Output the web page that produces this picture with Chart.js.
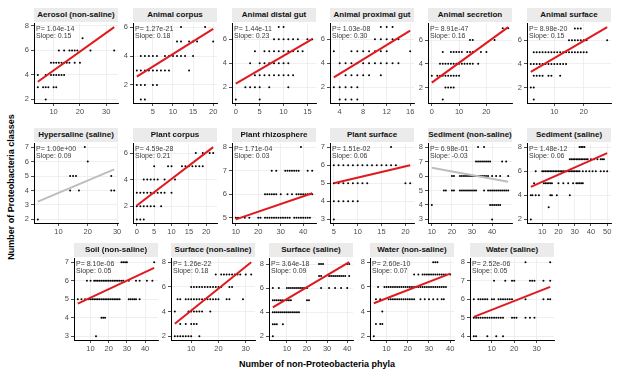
<!DOCTYPE html>
<html>
<head>
<meta charset="utf-8">
<script src="https://cdn.jsdelivr.net/npm/chart.js@4.4.1/dist/chart.umd.min.js"></script>
<style>
  body { margin: 0; background: #fff; font-family: "Liberation Sans", Arial, sans-serif; }
  #page { position: relative; width: 617px; height: 379px; overflow: hidden; }
  .strip { position: absolute; background: #ebebeb; color: #111; font-weight: bold; font-size: 8px;
           text-align: center; line-height: 14px; height: 14px; white-space: nowrap; overflow: hidden; }
  canvas { position: absolute; }
  .ytitle { position: absolute; left: 11px; top: 187px; transform: translate(-50%, -50%) rotate(-90deg);
            font-weight: bold; font-size: 9px; white-space: nowrap; color: #000; }
  .xtitle { position: absolute; left: 317px; top: 364px; transform: translate(-50%, -50%);
            font-weight: bold; font-size: 9px; white-space: nowrap; color: #000; }
</style>
</head>
<body>
<div id="page">
  <div class="ytitle">Number of Proteobacteria classes</div>
  <div class="xtitle">Number of non-Proteobacteria phyla</div>
</div>
<script>
//==================================================Data==================================================

var titles = ['Aerosol (non-saline)', 'Animal corpus', 'Animal distal gut', 'Animal proximal gut',
    'Animal secretion', 'Animal surface', 'Hypersaline (saline)', 'Plant corpus', 'Plant rhizosphere',
    'Plant surface', 'Sediment (non-saline)', 'Sediment (saline)', 'Soil (non-saline)',
    'Surface (non-saline)', 'Surface (saline)', 'Water (non-saline)', 'Water (saline)'];

var pLabels = ['1.04e-14', '1.27e-21', '1.44e-11', '1.03e-08', '8.91e-47', '8.98e-20', '1.00e+00',
    '4.59e-28', '1.71e-04', '1.51e-02', '6.98e-01', '1.48e-12', '8.10e-06', '1.26e-22', '3.64e-18',
    '2.60e-10', '2.52e-06'];

var slopeLabels = ['0.15', '0.18', '0.23', '0.30', '0.16', '0.15', '0.09', '0.21', '0.03', '0.06',
    '-0.03', '0.06', '0.05', '0.18', '0.09', '0.07', '0.05'];

var significant = [true, true, true, true, true, true, false, true, true, true, false, true, true,
    true, true, true, true];

// fitted line ends [x, y]
var lineFrom = [[4, 3.44], [1, 2.58], [0, 2.3], [3, 2.83], [0, 2.41], [2, 3.33], [3, 3.23], [0, 2.05],
    [10, 4.93], [5, 5.0], [10, 6.57], [3, 4.7], [3, 4.76], [4, 3.02], [3, 4.4], [4, 4.68], [2, 5.05]];
var lineTo = [[33, 7.9], [20, 5.88], [16, 6.0], [16, 6.7], [28, 7.09], [28, 7.12], [29, 5.46], [22, 6.45],
    [44, 6.04], [21, 6.0], [48, 5.6], [50, 7.5], [45, 6.69], [32, 8.0], [41, 8.15], [40, 7.07], [36, 6.67]];

var xSteps = [10, 5, 5, 4, 10, 10, 10, 5, 10, 5, 10, 10, 10, 10, 10, 10, 10];
var ySteps = [2, 2, 2, 2, 2, 2, 1, 2, 1, 1, 1, 2, 1, 2, 2, 2, 1];

// points per panel: [classes, [phyla, ...]]
var aerosolPts = [[7, [21]], [6, [12, 14, 16, 17, 18, 19, 24, 33]], [5, [9, 10, 11, 12, 13, 14, 15, 16, 18, 20]],
    [4, [4, 7, 9, 10, 11, 12, 13, 14]], [3, [4, 6, 7, 8, 10, 11]], [2, [7]]];
var corpusPts = [[6, [12, 18]], [5, [11, 12, 14, 15, 16, 20]], [4, [2, 3, 4, 5, 6, 8, 9, 10, 11, 12, 13, 15]],
    [3, [1, 2, 3, 4, 5, 6, 7, 8, 9, 14]], [2, [1, 2, 3, 5, 6]], [1, [2, 3]]];
var distalPts = [[7, [9, 10]], [6, [8, 9, 10, 11, 12, 13, 15, 16]], [5, [4, 6, 7, 8, 9, 10, 11, 12, 13, 14]],
    [4, [3, 5, 6, 7, 8, 9, 10, 11]], [3, [4, 5, 6, 7, 8, 9, 10, 11, 12]], [2, [2, 3, 4, 5, 7, 11]], [1, [0, 5]]];
var proximalPts = [[7, [11, 12, 13]], [6, [10, 11, 12, 13, 14]], [5, [3, 6, 7, 8, 9, 10, 11, 12, 16]],
    [4, [4, 5, 6, 7, 8, 9, 10, 11, 12, 13, 14]], [3, [5, 6, 7, 8, 9, 11]], [2, [3, 4, 5, 6, 7]], [1, [4, 5, 6, 7]]];
var secretionPts = [[7, [26, 28]], [6, [14, 15, 23]], [5, [4, 7, 8, 9, 10, 11, 13, 14, 15, 18, 20]],
    [4, [3, 4, 5, 6, 7, 8, 9, 10, 11, 12, 13, 14, 15, 17]], [3, [0, 2, 3, 4, 5, 6, 7, 8, 9, 10]],
    [2, [5, 6, 7, 8]], [1, [4]]];
var animalSurfPts = [[7, [17, 18, 19]], [6, [15, 16, 17, 18, 19, 20, 21, 28]],
    [5, [3, 4, 5, 6, 7, 8, 9, 10, 11, 12, 13, 14, 15, 16, 17, 18, 19, 20, 21]],
    [4, [2, 3, 4, 5, 6, 7, 8, 9, 10, 11, 12, 13, 14]], [3, [3, 4, 5, 6, 8, 9, 12]], [2, [2, 3]], [1, [3]]];
var hyperPts = [[7, [19]], [6, [20]], [5, [14, 15, 16, 28]], [4, [14, 17, 28, 29]], [2, [3]]];
var plantCorpusPts = [[6, [17, 19, 21, 22]], [5, [5, 9, 10, 13, 14, 15, 16, 17, 18, 19]],
    [4, [2, 3, 4, 5, 6, 8, 11]], [3, [0, 1, 2, 3, 4, 5, 6, 7, 8, 10]], [2, [0, 1, 2, 3, 4, 5, 7]], [1, [0, 1, 2]]];
var rhizoPts = [[8, [39]], [7, [26, 28, 32, 33, 34, 35, 36, 37, 38, 42, 44]],
    [6, [23, 24, 25, 26, 27, 28, 30, 33, 35, 37, 38, 39, 40, 41, 42, 43, 44]],
    [5, [10, 11, 14, 16, 20, 21, 23, 24, 25, 26, 27, 28, 29, 30, 31, 32, 33, 34, 36, 37, 38, 39, 40, 41, 42, 43]]];
var plantSurfPts = [[7, [17]], [6, [5, 6, 7, 8, 9, 10, 11, 12, 13, 14, 15, 16, 17, 18]],
    [5, [5, 6, 7, 8, 9, 10, 11, 12, 20, 21]], [4, [5, 6, 7, 8, 9, 10]], [3, [5]]];
var sedimentNsPts = [[8, [33, 36]], [7, [32, 33, 34, 35, 36, 37, 38, 39, 45, 47]],
    [6, [20, 21, 24, 25, 26, 27, 28, 29, 30, 31, 32, 33, 34, 35, 36, 37, 38, 40, 42, 44, 48]],
    [5, [16, 17, 20, 21, 24, 25, 26, 27, 28, 29, 30, 31, 32, 36, 38, 39, 40, 41, 42, 43, 44, 45, 46, 47, 48]],
    [4, [10, 39, 40, 41, 42, 43, 44]], [3, [40]]];
var sedimentSPts = [[8, [33, 34, 35, 36]],
    [7, [27, 28, 29, 30, 31, 32, 33, 34, 35, 36, 37, 38, 40, 42, 44, 46, 47, 48]],
    [6, [6, 10, 11, 12, 13, 14, 15, 16, 17, 18, 19, 20, 21, 22, 23, 24, 25, 26, 27, 28, 29, 30, 31, 32, 33,
        35, 37, 39, 41, 43, 46, 48, 50]],
    [5, [5, 11, 12, 13, 14, 15, 16, 20, 23, 26, 29, 31, 32, 33, 34, 35]],
    [4, [3, 4, 6, 8, 15, 16, 19, 27]], [3, [14]], [2, [3]]];
var soilPts = [[7, [27, 28, 29, 30, 45]],
    [6, [8, 10, 12, 13, 14, 15, 16, 17, 18, 19, 20, 21, 22, 23, 24, 25, 26, 27, 28, 31, 35, 37, 41, 44]],
    [5, [3, 5, 7, 9, 10, 11, 12, 13, 14, 15, 16, 17, 18, 19, 20, 21, 22, 23, 24, 25, 26, 31, 32, 33, 34, 35, 37]],
    [4, [16, 17, 18]], [3, [13]]];
var surfaceNsPts = [[7, [19, 21, 22, 23, 24, 25, 26, 27, 28, 30, 32]],
    [6, [10, 11, 12, 13, 14, 15, 16, 17, 18, 19, 20, 21, 24, 25]],
    [5, [5, 6, 8, 9, 10, 11, 12, 13, 14, 15, 16, 17, 18, 19, 20, 23, 24, 29]],
    [4, [4, 9, 10, 11, 12, 13, 14, 17]], [3, [6, 8, 10, 11, 12]], [2, [4, 5, 6, 7, 8, 9, 10, 13]]];
var surfaceSPts = [[8, [26, 27, 28, 40, 41]], [7, [26, 27, 31, 32, 33, 34, 35, 36, 37, 38, 39, 41]],
    [6, [3, 6, 10, 11, 12, 13, 14, 15, 16, 17, 18, 19, 20, 27, 31, 34, 37, 40]],
    [5, [3, 4, 5, 6, 7, 8, 10, 11, 12, 20, 21]], [4, [3, 4, 5, 6, 7, 8, 9, 10, 11, 12, 13, 14, 15, 16]],
    [3, [3, 4, 5, 8]], [2, [3]]];
var waterNsPts = [[8, [32, 33, 34]], [7, [23, 25, 27, 28, 29, 30, 31, 32, 33, 34, 35, 36, 37, 38, 40]],
    [6, [6, 9, 10, 11, 12, 13, 14, 15, 16, 17, 18, 19, 20, 21, 22, 23, 24, 25, 26, 27, 28, 29, 30, 31, 32,
        33, 34, 35, 36, 37, 38]],
    [5, [5, 7, 11, 12, 13, 14, 15, 16, 17, 18, 19, 20, 21, 22, 23, 26, 28, 30, 32, 34, 36, 37]],
    [4, [8]], [3, [5, 7, 8]], [2, [4]]];
var waterSPts = [[8, [25, 36]], [7, [11, 16, 19, 20, 27, 28, 29, 33, 36]],
    [6, [2, 4, 5, 6, 7, 8, 10, 11, 13, 14, 15, 16, 17, 18, 19, 25, 33, 35, 36]],
    [5, [2, 3, 4, 5, 6, 7, 8, 9, 10, 11, 12, 13, 14, 15, 19, 20, 21, 25, 27, 29]], [4, [2, 3, 8, 12, 15]]];

var panelPoints = [aerosolPts, corpusPts, distalPts, proximalPts, secretionPts, animalSurfPts, hyperPts,
    plantCorpusPts, rhizoPts, plantSurfPts, sedimentNsPts, sedimentSPts, soilPts, surfaceNsPts,
    surfaceSPts, waterNsPts, waterSPts];

//==================================================Layout==================================================

var stripTops = [8, 128, 243];
var plotHeights = [81, 81, 83];
var colLefts = [[34, 133, 232, 330, 428, 527], [34, 133, 232, 330, 428, 527], [74, 171, 269, 370, 470]];
var plotW = 84, stripH = 14;
var YW = 16, XH = 12, PT = 5, PR = 8;

// draws the P / slope text in the top left corner of a panel
var statsText = {
    id: 'statsText',
    afterDatasetsDraw: function(chart, args, opts) {
        var c = chart.ctx, a = chart.chartArea;
        c.save();
        c.fillStyle = '#3a3a3a';
        c.font = '7px "Liberation Sans", Arial, sans-serif';
        c.textBaseline = 'middle';
        c.fillText('P= ' + opts.p, a.left + 2, a.top + 6);
        c.fillText('Slope: ' + opts.slope, a.left + 2, a.top + 13);
        c.restore();
    }
};

var page = document.getElementById('page');

for (var i = 0; i < titles.length; i++) {
    var row = i < 6 ? 0 : (i < 12 ? 1 : 2);
    var col = row == 2 ? i - 12 : i % 6;
    var left = colLefts[row][col];
    var plotTop = stripTops[row] + stripH;
    var plotH = plotHeights[row];

    var strip = document.createElement('div');
    strip.className = 'strip';
    strip.style.left = left + 'px';
    strip.style.top = stripTops[row] + 'px';
    strip.style.width = plotW + 'px';
    strip.textContent = titles[i];
    page.appendChild(strip);

    // flatten the rows into {x, y}
    var pts = [];
    panelPoints[i].forEach(function(r) {
        r[1].forEach(function(x) { pts.push({x: x, y: r[0]}); });
    });
    var fit = [{x: lineFrom[i][0], y: lineFrom[i][1]}, {x: lineTo[i][0], y: lineTo[i][1]}];

    // ggplot style 5% expansion
    var allX = pts.map(p => p.x).concat([fit[0].x, fit[1].x]);
    var allY = pts.map(p => p.y).concat([fit[0].y, fit[1].y]);
    var x0 = Math.min(...allX), x1 = Math.max(...allX);
    var y0 = Math.min(...allY), y1 = Math.max(...allY);
    var dx = (x1 - x0) * 0.05, dy = (y1 - y0) * 0.05;

    var cv = document.createElement('canvas');
    var w = YW + plotW + PR, h = PT + plotH + XH;
    cv.width = w; cv.height = h;
    cv.style.left = (left - YW) + 'px';
    cv.style.top = (plotTop - PT) + 'px';
    cv.style.width = w + 'px';
    cv.style.height = h + 'px';
    page.appendChild(cv);

    var tickFont = {family: '"Liberation Sans", Arial, sans-serif', size: 7.5};

    new Chart(cv, {
        type: 'scatter',
        data: {
            datasets: [{
                type: 'line',
                data: fit,
                borderColor: significant[i] ? '#e0191f' : '#bdbdbd',
                borderWidth: 2,
                pointRadius: 0,
                fill: false
            }, {
                data: pts,
                backgroundColor: '#000',
                borderWidth: 0,
                pointRadius: 1,
                pointHoverRadius: 1
            }]
        },
        options: {
            responsive: false,
            animation: false,
            devicePixelRatio: 1,
            layout: {padding: {top: PT, right: PR, left: 0, bottom: 0}},
            plugins: {
                legend: {display: false},
                tooltip: {enabled: false},
                statsText: {p: pLabels[i], slope: slopeLabels[i]}
            },
            scales: {
                x: {
                    type: 'linear',
                    min: x0 - dx,
                    max: x1 + dx,
                    afterFit: function(s) { s.height = XH; },
                    border: {display: true, color: '#000', width: 1},
                    grid: {color: '#ebebeb', lineWidth: 0.8, tickLength: 3, tickColor: '#222'},
                    ticks: {stepSize: xSteps[i], includeBounds: false, autoSkip: false, maxRotation: 0,
                        padding: 1, color: '#4d4d4d', font: tickFont}
                },
                y: {
                    type: 'linear',
                    min: y0 - dy,
                    max: y1 + dy,
                    afterFit: function(s) { s.width = YW; },
                    border: {display: true, color: '#000', width: 1},
                    grid: {color: '#ebebeb', lineWidth: 0.8, tickLength: 3, tickColor: '#222'},
                    ticks: {stepSize: ySteps[i], includeBounds: false, autoSkip: false,
                        padding: 2, color: '#4d4d4d', font: tickFont}
                }
            }
        },
        plugins: [statsText]
    });
}
</script>
</body>
</html>
